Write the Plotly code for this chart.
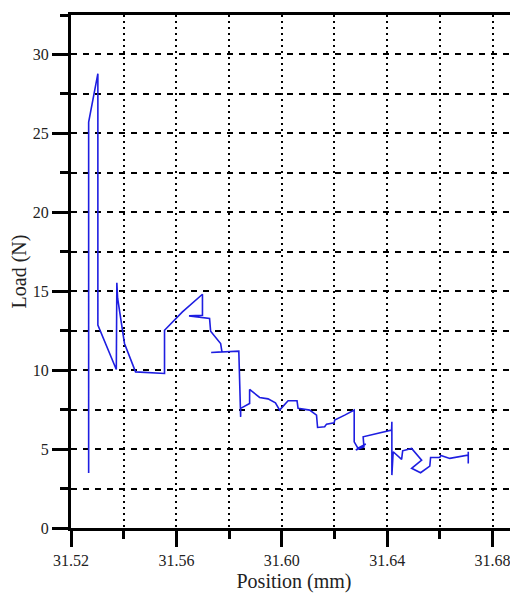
import plotly.graph_objects as go

position_mm = [
    31.5267, 31.5267, 31.5302, 31.5302, 31.5372, 31.5374, 31.5377, 31.5403, 31.5445, 31.5555,
    31.5555, 31.5623, 31.5699, 31.5699, 31.5648, 31.5726, 31.5730, 31.5768, 31.5773, 31.5732,
    31.5837, 31.5844, 31.5844, 31.5878, 31.5878, 31.5916, 31.5948, 31.5976, 31.5992, 31.6024,
    31.6058, 31.6062, 31.6106, 31.6132, 31.6136, 31.6163, 31.6170, 31.6199, 31.6201, 31.6239,
    31.6271, 31.6275, 31.6275, 31.6289, 31.6319, 31.6281, 31.6312, 31.6309, 31.6417, 31.6418,
    31.6418, 31.6423, 31.6455, 31.6459, 31.6493, 31.6503, 31.6531, 31.6493, 31.6527, 31.6562,
    31.6565, 31.6600, 31.6604, 31.6638, 31.6708, 31.6708, 31.6708,
]
load_n = [
    3.48, 25.72, 28.78, 12.85, 10.04, 15.53, 14.56, 11.69, 9.89, 9.79,
    12.53, 13.69, 14.81, 13.48, 13.44, 13.27, 12.47, 11.69, 11.16, 11.12,
    11.20, 7.04, 7.58, 7.89, 8.78, 8.27, 8.18, 7.93, 7.47, 8.06,
    8.06, 7.58, 7.47, 7.15, 6.37, 6.41, 6.58, 6.66, 6.84, 7.15,
    7.42, 7.47, 5.46, 5.06, 5.32, 4.94, 5.13, 5.78, 6.20, 6.73,
    3.35, 4.83, 4.35, 4.89, 5.04, 4.83, 4.30, 3.78, 3.50, 3.92,
    4.47, 4.47, 4.60, 4.41, 4.62, 4.83, 4.09,
]

x_tick_vals = [31.52, 31.56, 31.60, 31.64, 31.68]
x_tick_text = ["31.52", "31.56", "31.60", "31.64", "31.68"]
y_tick_vals = [0, 5, 10, 15, 20, 25, 30]

fig = go.Figure()
fig.add_trace(go.Scatter(
    x=position_mm, y=load_n, mode="lines",
    line=dict(color="rgb(30,30,225)", width=1.6),
    showlegend=False,
))

font_family = "Liberation Serif"
common_axis = dict(
    showline=True, linecolor="black", linewidth=3, mirror=True,
    ticks="outside", ticklen=16, tickwidth=3, tickcolor="black",
    zeroline=False,
    tickfont=dict(family=font_family, size=16, color="#222"),
    showgrid=True, gridcolor="black", gridwidth=2,
)

fig.update_layout(
    template="none",
    font=dict(family=font_family, color="#222"),
    width=510, height=586,
    margin=dict(l=63, r=1, t=7, b=66, autoexpand=False),
    paper_bgcolor="white", plot_bgcolor="white",
    xaxis=dict(
        **common_axis,
        automargin=True,
        range=[31.52, 31.6893],
        tickvals=x_tick_vals, ticktext=x_tick_text,
        griddash="2px,4px",
        minor=dict(dtick=0.02, tick0=31.52, ticks="outside", ticklen=8, tickwidth=3,
                   tickcolor="black", showgrid=True, gridcolor="black", gridwidth=2,
                   griddash="2px,4px"),
        title=dict(text="Position (mm)", font=dict(family=font_family, size=20, color="#222"),
                   standoff=6),
    ),
    yaxis=dict(
        **common_axis,
        automargin=False,
        range=[0, 32.5],
        tickvals=y_tick_vals,
        griddash="6px,6px",
        minor=dict(dtick=2.5, tick0=0, ticks="outside", ticklen=8, tickwidth=3,
                   tickcolor="black", showgrid=True, gridcolor="black", gridwidth=2,
                   griddash="6px,6px"),
        title=dict(text="Load (N)", font=dict(family=font_family, size=20, color="#222")),
    ),
)

fig.write_html("out.html")
